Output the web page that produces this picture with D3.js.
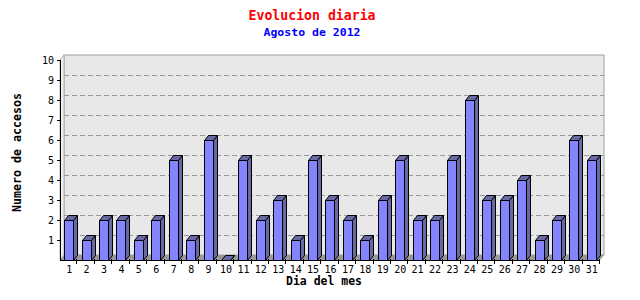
<!DOCTYPE html>
<html><head><meta charset="utf-8">
<script src="https://cdn.jsdelivr.net/npm/d3@7"></script>
<style>body{margin:0;background:#fff}svg{display:block}</style>
</head><body>
<svg id="c" width="640" height="300"></svg>
<script>
const days = d3.range(1, 32).map(String);
const visits = [2,1,2,2,1,2,5,1,6,0,5,2,3,1,5,3,2,1,3,5,2,2,5,8,3,3,4,1,2,6,5];
const yTicks = [1,2,3,4,5,6,7,8,9,10];
const title = "Evolucion diaria";
const subtitle = "Agosto de 2012";
const xTitle = "Dia del mes";
const yTitle = "Numero de accesos";

const svg = d3.select("#c");
const mono = "'DejaVu Sans Mono', 'Liberation Mono', monospace";
const DX = 4, DY = 5;
const x = d3.scaleBand().domain(days).range([60, 600]);
const y = d3.scaleLinear().domain([0, 10]).range([260, 60]);

// back wall
svg.append("rect").attr("x", 60 + DX).attr("y", y(10) - DY)
  .attr("width", 540).attr("height", y(0) - y(10))
  .attr("fill", "#e8e8e8").attr("stroke", "#a0a0a0");
// left wall
svg.append("polygon").attr("points", [[60, y(10)], [60 + DX, y(10) - DY], [60 + DX, y(0) - DY], [60, y(0)]].join(" "))
  .attr("fill", "#f0f0f0").attr("stroke", "#b0b0b0");
// floor
svg.append("polygon").attr("points", [[60, y(0)], [60 + DX, y(0) - DY], [600 + DX, y(0) - DY], [600, y(0)]].join(" "))
  .attr("fill", "#999999");
// grid
svg.selectAll(".grid").data(yTicks.filter(v => v < 10)).join("line")
  .attr("x1", 60 + DX).attr("x2", 600 + DX)
  .attr("y1", v => y(v) - DY + 0.5).attr("y2", v => y(v) - DY + 0.5)
  .attr("stroke", "#999").attr("stroke-dasharray", "5,3");

// bars
const bw = 9;
const g = svg.append("g");
days.forEach((d, i) => {
  const cx = x(d) + x.bandwidth() / 2;
  const x0 = Math.round(cx - bw / 2) + 0.5, x1 = x0 + bw;
  const yv = Math.round(y(visits[i])) + 0.5, yb = y(0) + 0.5;
  g.append("polygon").attr("points", [[x1, yv], [x1 + DX, yv - DY], [x1 + DX, yb - DY], [x1, yb]].join(" "))
    .attr("fill", "#6868a4").attr("stroke", "#000").attr("stroke-width", 1);
  g.append("polygon").attr("points", [[x0, yv], [x0 + DX, yv - DY], [x1 + DX, yv - DY], [x1, yv]].join(" "))
    .attr("fill", "#6868a4").attr("stroke", "#000").attr("stroke-width", 1);
  if (visits[i] > 0)
    g.append("rect").attr("x", x0).attr("y", yv).attr("width", bw).attr("height", yb - yv)
      .attr("fill", "#8484ff").attr("stroke", "#000").attr("stroke-width", 1);
});

// axes
svg.append("line").attr("x1", 60.5).attr("x2", 60.5).attr("y1", y(10)).attr("y2", y(0) + 0.5).attr("stroke", "#000");
svg.append("line").attr("x1", 60).attr("x2", 600).attr("y1", y(0) + 0.5).attr("y2", y(0) + 0.5).attr("stroke", "#000");
svg.selectAll(".yt").data(yTicks).join("line")
  .attr("x1", 57).attr("x2", 60).attr("y1", v => y(v) + 0.5).attr("y2", v => y(v) + 0.5).attr("stroke", "#000");
svg.selectAll(".yl").data(yTicks).join("text")
  .attr("x", 54).attr("y", v => y(v) + 4).attr("text-anchor", "end")
  .attr("font-family", mono).attr("font-size", 10).attr("fill", "#000").text(v => v);
svg.selectAll(".xt").data(days).join("line")
  .attr("x1", d => Math.round(x(d) + x.bandwidth()) - 0.5).attr("x2", d => Math.round(x(d) + x.bandwidth()) - 0.5)
  .attr("y1", y(0) - 1).attr("y2", y(0) + 4).attr("stroke", "#000");
svg.selectAll(".xl").data(days).join("text")
  .attr("x", d => x(d) + x.bandwidth() / 2 + 0.5).attr("y", 272.5).attr("text-anchor", "middle")
  .attr("font-family", mono).attr("font-size", 10).attr("fill", "#000").text(d => d);

// titles
svg.append("text").attr("x", 312).attr("y", 19.5).attr("text-anchor", "middle")
  .attr("font-family", mono).attr("font-weight", "bold").attr("font-size", 14)
  .attr("textLength", 127).attr("lengthAdjust", "spacingAndGlyphs")
  .attr("fill", "#ff0000").text(title);
svg.append("text").attr("x", 312).attr("y", 36).attr("text-anchor", "middle")
  .attr("font-family", mono).attr("font-weight", "bold").attr("font-size", 11)
  .attr("textLength", 97).attr("lengthAdjust", "spacingAndGlyphs")
  .attr("fill", "#0000ff").text(subtitle);
svg.append("text").attr("x", 324).attr("y", 285).attr("text-anchor", "middle")
  .attr("font-family", mono).attr("font-weight", "bold").attr("font-size", 11.5)
  .attr("textLength", 76).attr("lengthAdjust", "spacingAndGlyphs")
  .attr("fill", "#000").text(xTitle);
svg.append("text").attr("transform", "translate(21,152.5) rotate(-90)").attr("text-anchor", "middle")
  .attr("font-family", mono).attr("font-weight", "bold").attr("font-size", 11.5)
  .attr("textLength", 119).attr("lengthAdjust", "spacingAndGlyphs")
  .attr("fill", "#000").text(yTitle);
</script>
</body></html>
